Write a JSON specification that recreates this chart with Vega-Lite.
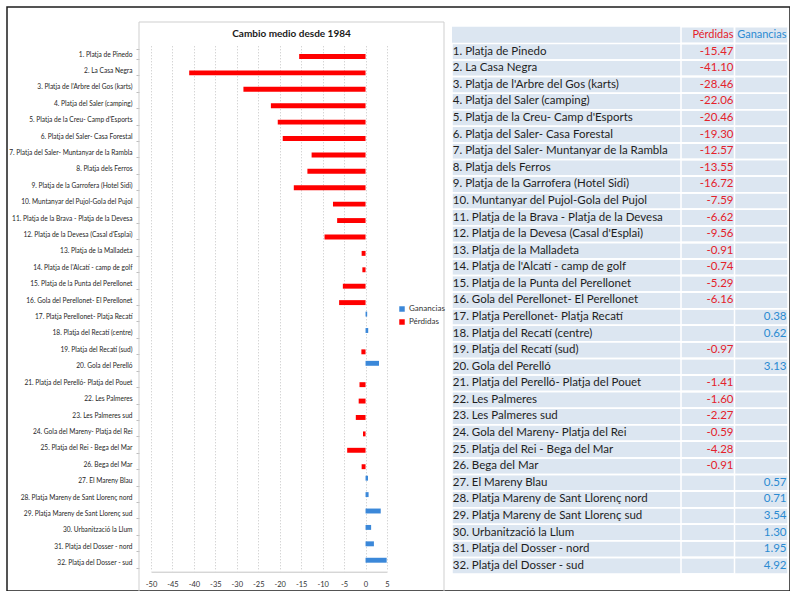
{
  "$schema": "https://vega.github.io/schema/vega-lite/v6.json",
  "width": 783,
  "height": 584,
  "autosize": {"type": "none"},
  "padding": {"left": 7, "top": 7, "right": 0, "bottom": 0},
  "background": "white",
  "config": {
    "view": {"stroke": "#1c1c1c", "strokeWidth": 1.5},
    "font": "Lato",
    "locale": {"number": {"decimal": ".", "thousands": ",", "grouping": [3], "currency": ["", ""], "minus": "-"}}
  },
  "datasets": {
    "playas": [
      {"n": 1, "playa": "1. Platja de Pinedo", "serie": "Pérdidas", "valor": -15.47},
      {"n": 2, "playa": "2. La Casa Negra", "serie": "Pérdidas", "valor": -41.10},
      {"n": 3, "playa": "3. Platja de l'Arbre del Gos (karts)", "serie": "Pérdidas", "valor": -28.46},
      {"n": 4, "playa": "4. Platja del Saler (camping)", "serie": "Pérdidas", "valor": -22.06},
      {"n": 5, "playa": "5. Platja de la Creu- Camp d'Esports", "serie": "Pérdidas", "valor": -20.46},
      {"n": 6, "playa": "6. Platja del Saler- Casa Forestal", "serie": "Pérdidas", "valor": -19.30},
      {"n": 7, "playa": "7. Platja del Saler- Muntanyar de la Rambla", "serie": "Pérdidas", "valor": -12.57},
      {"n": 8, "playa": "8. Platja dels Ferros", "serie": "Pérdidas", "valor": -13.55},
      {"n": 9, "playa": "9. Platja de la Garrofera (Hotel Sidi)", "serie": "Pérdidas", "valor": -16.72},
      {"n": 10, "playa": "10. Muntanyar del Pujol-Gola del Pujol", "serie": "Pérdidas", "valor": -7.59},
      {"n": 11, "playa": "11. Platja de la Brava - Platja de la Devesa", "serie": "Pérdidas", "valor": -6.62},
      {"n": 12, "playa": "12. Platja de la Devesa (Casal d'Esplai)", "serie": "Pérdidas", "valor": -9.56},
      {"n": 13, "playa": "13. Platja de la Malladeta", "serie": "Pérdidas", "valor": -0.91},
      {"n": 14, "playa": "14. Platja de l'Alcatí - camp de golf", "serie": "Pérdidas", "valor": -0.74},
      {"n": 15, "playa": "15. Platja de la Punta del Perellonet", "serie": "Pérdidas", "valor": -5.29},
      {"n": 16, "playa": "16. Gola del Perellonet- El Perellonet", "serie": "Pérdidas", "valor": -6.16},
      {"n": 17, "playa": "17. Platja Perellonet- Platja Recatí", "serie": "Ganancias", "valor": 0.38},
      {"n": 18, "playa": "18. Platja del Recatí (centre)", "serie": "Ganancias", "valor": 0.62},
      {"n": 19, "playa": "19. Platja del Recatí (sud)", "serie": "Pérdidas", "valor": -0.97},
      {"n": 20, "playa": "20. Gola del Perelló", "serie": "Ganancias", "valor": 3.13},
      {"n": 21, "playa": "21. Platja del Perelló- Platja del Pouet", "serie": "Pérdidas", "valor": -1.41},
      {"n": 22, "playa": "22. Les Palmeres", "serie": "Pérdidas", "valor": -1.60},
      {"n": 23, "playa": "23. Les Palmeres sud", "serie": "Pérdidas", "valor": -2.27},
      {"n": 24, "playa": "24. Gola del Mareny- Platja del Rei", "serie": "Pérdidas", "valor": -0.59},
      {"n": 25, "playa": "25. Platja del Rei - Bega del Mar", "serie": "Pérdidas", "valor": -4.28},
      {"n": 26, "playa": "26. Bega del Mar", "serie": "Pérdidas", "valor": -0.91},
      {"n": 27, "playa": "27. El Mareny Blau", "serie": "Ganancias", "valor": 0.57},
      {"n": 28, "playa": "28. Platja Mareny de Sant Llorenç nord", "serie": "Ganancias", "valor": 0.71},
      {"n": 29, "playa": "29. Platja Mareny de Sant Llorenç sud", "serie": "Ganancias", "valor": 3.54},
      {"n": 30, "playa": "30. Urbanització la Llum", "serie": "Ganancias", "valor": 1.30},
      {"n": 31, "playa": "31. Platja del Dosser - nord", "serie": "Ganancias", "valor": 1.95},
      {"n": 32, "playa": "32. Platja del Dosser - sud", "serie": "Ganancias", "valor": 4.92}
    ],
    "cabecera": [{"columna": "Pérdidas"}, {"columna": "Ganancias"}]
  },
  "layer": [
    {
      "data": {"name": "playas"},
      "transform": [{"aggregate": [{"op": "count", "as": "filas"}]}],
      "mark": {"type": "rect", "fillOpacity": 0, "stroke": "#cfcfcf", "strokeWidth": 1},
      "encoding": {
        "x": {"datum": "marco", "type": "nominal", "scale": {"range": [132, 437], "paddingInner": 0, "paddingOuter": 0}, "axis": null},
        "y": {"datum": "marco", "type": "nominal", "scale": {"range": [15, 620], "paddingInner": 0, "paddingOuter": 0}, "axis": null}
      }
    },
    {
      "data": {"name": "playas"},
      "transform": [{"aggregate": [{"op": "count", "as": "filas"}]}],
      "mark": {"type": "text", "text": "Cambio medio  desde 1984", "font": "Lato", "fontWeight": "bold", "fontSize": 10, "color": "#1a1a1a", "align": "center", "baseline": "middle"},
      "encoding": {
        "x": {"datum": "titulo", "type": "nominal", "scale": {"range": [132, 437], "paddingInner": 0, "paddingOuter": 0}, "axis": null},
        "y": {"datum": "titulo", "type": "nominal", "scale": {"range": [20, 34], "paddingInner": 0, "paddingOuter": 0}, "axis": null}
      }
    },
    {
      "data": {"name": "playas"},
      "mark": {"type": "point", "opacity": 0},
      "encoding": {
        "y": {"field": "playa", "type": "nominal", "sort": null, "scale": {"range": [38.8, 563.9], "paddingInner": 0.4, "paddingOuter": 0.2}, "axis": null},
        "x": {
          "field": "valor", "type": "quantitative",
          "scale": {"domain": [-50, 5], "range": [144, 380], "nice": false},
          "axis": {"orient": "top", "title": null, "values": [-50, -45, -40, -35, -30, -25, -20, -15, -10, -5, 0, 5], "grid": true, "gridDash": [1, 2], "gridColor": "#c4c4c4", "domain": false, "ticks": false, "labels": false}
        }
      }
    },
    {
      "data": {"name": "playas"},
      "mark": {"type": "bar"},
      "encoding": {
        "y": {
          "field": "playa", "type": "nominal", "sort": null,
          "scale": {"range": [38.8, 563.9], "paddingInner": 0.4, "paddingOuter": 0.2},
          "axis": {"orient": "left", "offset": -132, "title": null, "domain": false, "ticks": true, "tickBand": "extent", "tickSize": 3, "tickColor": "#bdbdbd", "labelFontSize": 6.6, "labelFont": "Liberation Sans Narrow, Lato, sans-serif", "labelColor": "#262626", "labelPadding": 4, "labelLimit": 300, "grid": false}
        },
        "x": {
          "field": "valor", "type": "quantitative",
          "scale": {"domain": [-50, 5], "range": [144, 380], "nice": false},
          "axis": {"orient": "bottom", "offset": -19.3, "title": null, "values": [-50, -45, -40, -35, -30, -25, -20, -15, -10, -5, 0, 5], "grid": false, "domainColor": "#c4c4c4", "ticks": false, "labelFlush": false, "labelFontSize": 7.5, "labelFont": "Liberation Sans Narrow, Lato, sans-serif", "labelColor": "#333333", "labelPadding": 9}
        },
        "yOffset": {"field": "serie", "type": "nominal", "scale": {"domain": ["Ganancias", "Pérdidas"]}},
        "color": {
          "field": "serie", "type": "nominal",
          "scale": {"domain": ["Ganancias", "Pérdidas"], "range": ["#3B88D9", "#FF0000"]},
          "legend": {"orient": "none", "legendX": 391, "legendY": 298, "title": null, "symbolType": "square", "symbolSize": 30, "labelFontSize": 8, "labelFont": "Liberation Sans Narrow, Lato, sans-serif", "labelColor": "#333333", "labelOffset": 3, "rowPadding": 5, "symbolStrokeWidth": 0}
        }
      }
    },
    {
      "data": {"name": "playas"},
      "transform": [{"aggregate": [{"op": "count", "as": "filas"}]}],
      "mark": {"type": "rect", "fill": "#DCE6F1"},
      "encoding": {
        "x": {"datum": "tabla", "type": "nominal", "scale": {"range": [445, 781], "paddingInner": 0, "paddingOuter": 0}, "axis": null},
        "y": {"datum": "tabla", "type": "nominal", "scale": {"range": [19.8, 567], "paddingInner": 0, "paddingOuter": 0}, "axis": null}
      }
    },
    {
      "data": {"name": "playas"},
      "mark": {"type": "rect", "fillOpacity": 0, "stroke": "white", "strokeWidth": 1.5},
      "encoding": {
        "x": {"datum": "tabla", "type": "nominal", "scale": {"range": [445, 781], "paddingInner": 0, "paddingOuter": 0}, "axis": null},
        "y": {"field": "playa", "type": "nominal", "sort": null, "scale": {"range": [36.4, 567], "paddingInner": 0, "paddingOuter": 0}, "axis": null}
      }
    },
    {
      "data": {"name": "playas"},
      "mark": {"type": "rect", "fillOpacity": 0, "stroke": "white", "strokeWidth": 1.5},
      "encoding": {
        "x": {"datum": "Pérdidas", "type": "nominal", "scale": {"domain": ["Pérdidas", "Ganancias"], "range": [674, 781], "paddingInner": 0, "paddingOuter": 0}, "axis": null},
        "y": {"field": "playa", "type": "nominal", "sort": null, "scale": {"range": [36.4, 567], "paddingInner": 0, "paddingOuter": 0}, "axis": null}
      }
    },
    {
      "data": {"name": "cabecera"},
      "mark": {"type": "rect", "fillOpacity": 0, "stroke": "white", "strokeWidth": 1.5},
      "encoding": {
        "x": {"field": "columna", "type": "nominal", "scale": {"domain": ["Pérdidas", "Ganancias"], "range": [674, 781], "paddingInner": 0, "paddingOuter": 0}, "axis": null},
        "y": {"datum": "cabecera", "type": "nominal", "scale": {"range": [19.8, 36.4], "paddingInner": 0, "paddingOuter": 0}, "axis": null}
      }
    },
    {
      "data": {"name": "playas"},
      "mark": {"type": "text", "align": "left", "baseline": "middle", "font": "Lato", "fontSize": 11.5, "color": "#1e1e1e"},
      "encoding": {
        "text": {"field": "playa", "type": "nominal"},
        "x": {"datum": "nombre", "type": "nominal", "scale": {"range": [444.8, 446.8], "paddingInner": 0, "paddingOuter": 0}, "axis": null},
        "y": {"field": "playa", "type": "nominal", "sort": null, "scale": {"range": [36.4, 567], "paddingInner": 0, "paddingOuter": 0}, "axis": null}
      }
    },
    {
      "data": {"name": "playas"},
      "mark": {"type": "text", "align": "right", "baseline": "middle", "font": "Lato", "fontSize": 11.5},
      "encoding": {
        "text": {"field": "valor", "type": "quantitative", "format": ".2f"},
        "x": {"field": "serie", "type": "nominal", "scale": {"domain": ["Pérdidas", "Ganancias"], "range": [700, 806], "paddingInner": 0, "paddingOuter": 0}, "axis": null},
        "y": {"field": "playa", "type": "nominal", "sort": null, "scale": {"range": [36.4, 567], "paddingInner": 0, "paddingOuter": 0}, "axis": null},
        "color": {"field": "serie", "type": "nominal", "scale": {"domain": ["Pérdidas", "Ganancias"], "range": ["#E4222B", "#2B8BD2"]}, "legend": null}
      }
    },
    {
      "data": {"name": "cabecera"},
      "mark": {"type": "text", "align": "right", "baseline": "middle", "font": "Lato", "fontSize": 11},
      "encoding": {
        "text": {"field": "columna", "type": "nominal"},
        "x": {"field": "columna", "type": "nominal", "scale": {"domain": ["Pérdidas", "Ganancias"], "range": [700, 806], "paddingInner": 0, "paddingOuter": 0}, "axis": null},
        "y": {"datum": "cabecera", "type": "nominal", "scale": {"range": [19.8, 36.4], "paddingInner": 0, "paddingOuter": 0}, "axis": null},
        "color": {"field": "columna", "type": "nominal", "scale": {"domain": ["Pérdidas", "Ganancias"], "range": ["#E4222B", "#2B8BD2"]}, "legend": null}
      }
    }
  ],
  "resolve": {
    "scale": {"x": "independent", "y": "independent", "color": "independent", "yOffset": "independent"},
    "axis": {"x": "independent", "y": "independent"},
    "legend": {"color": "independent"}
  }
}
